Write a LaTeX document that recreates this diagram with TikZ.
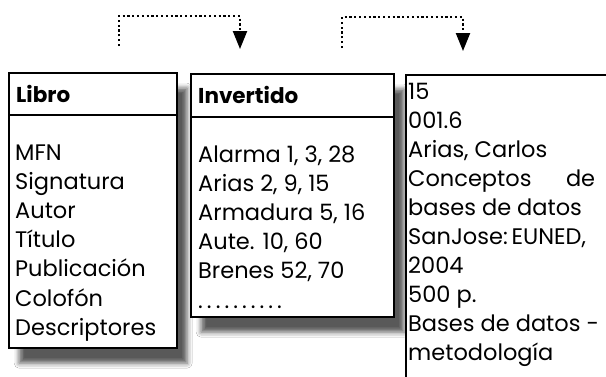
\documentclass[tikz,border=0pt]{standalone}
\usepackage{fontspec}
\setmainfont{Poppins}
\usetikzlibrary{arrows.meta,shadows.blur}
\begin{document}
\begin{tikzpicture}[x=1pt,y=-1pt,
  boxframe/.style={draw=black, line width=2.4pt, fill=white, inner sep=0pt, anchor=north west,
    blur shadow={shadow xshift=10pt, shadow yshift=-15pt, shadow blur radius=5pt, shadow opacity=65}},
  sepline/.style={draw=black, line width=2.4pt},
  txt/.style={anchor=base west, inner sep=0pt, font=\fontsize{22.5}{27}\selectfont},
  hdr/.style={anchor=base west, inner sep=0pt, font=\fontsize{21.5}{26}\selectfont\bfseries},
  conn/.style={line width=2.2pt, dash pattern=on 2.2pt off 2.6pt, -{Triangle[width=14pt,length=18pt]}}
]
\clip (0,0) rectangle (606,376);
\fill[white] (0,0) rectangle (606,376);

% boxes
\node[boxframe, minimum width=168pt, minimum height=275pt] (libro) at (8,72) {};
\node[boxframe, minimum width=203pt, minimum height=243pt] (inv) at (190,73) {};
\node[boxframe, minimum width=215pt, minimum height=330pt] (reg) at (405,74) {};

\draw[sepline] (libro.west |- 0,115) -- (libro.east |- 0,115);
\draw[sepline] (inv.west |- 0,117) -- (inv.east |- 0,117);

% headers
\node[hdr] (hlibro) at (16,102) {Libro};
\node[hdr] (hinv) at (198,103) {Invertido};

% Libro fields
\foreach \t [count=\i from 0] in {MFN,Signatura,Autor,Título,Publicación,Colofón,Descriptores}
  \node[txt] (lf\i) at (15,{160+29.2*\i}) {\t};

% Invertido entries
\foreach \t [count=\i from 0] in {{Alarma 1, 3, 28},{Arias 2, 9, 15},{Armadura 5, 16},{Aute. 10, 60},{Brenes 52, 70}}
  \node[txt] (iv\i) at (198,{162+29*\i}) {\t};
\node[txt] (ivdots) at (198,308) {\addfontfeatures{LetterSpace=18}..........};

% Registro
\foreach \t [count=\i from 0] in {15,001.6,{Arias, Carlos},{\makebox[187pt][l]{Conceptos\hfill de}},{bases de datos},{SanJose:\,EUNED,},2004,{500 p.},{Bases de datos -},metodología}
  \node[txt] (rg\i) at (408,{99+29*\i}) {\t};

% dotted connectors
\coordinate (a1) at (119,46);
\coordinate (a1t) at (240,49);
\coordinate (a2) at (342,48);
\coordinate (a2t) at (463,51);
\draw[conn] (a1) -- (119,16) -| (a1t);
\draw[conn] (a2) -- (342,17) -| (a2t);
\end{tikzpicture}
\end{document}
